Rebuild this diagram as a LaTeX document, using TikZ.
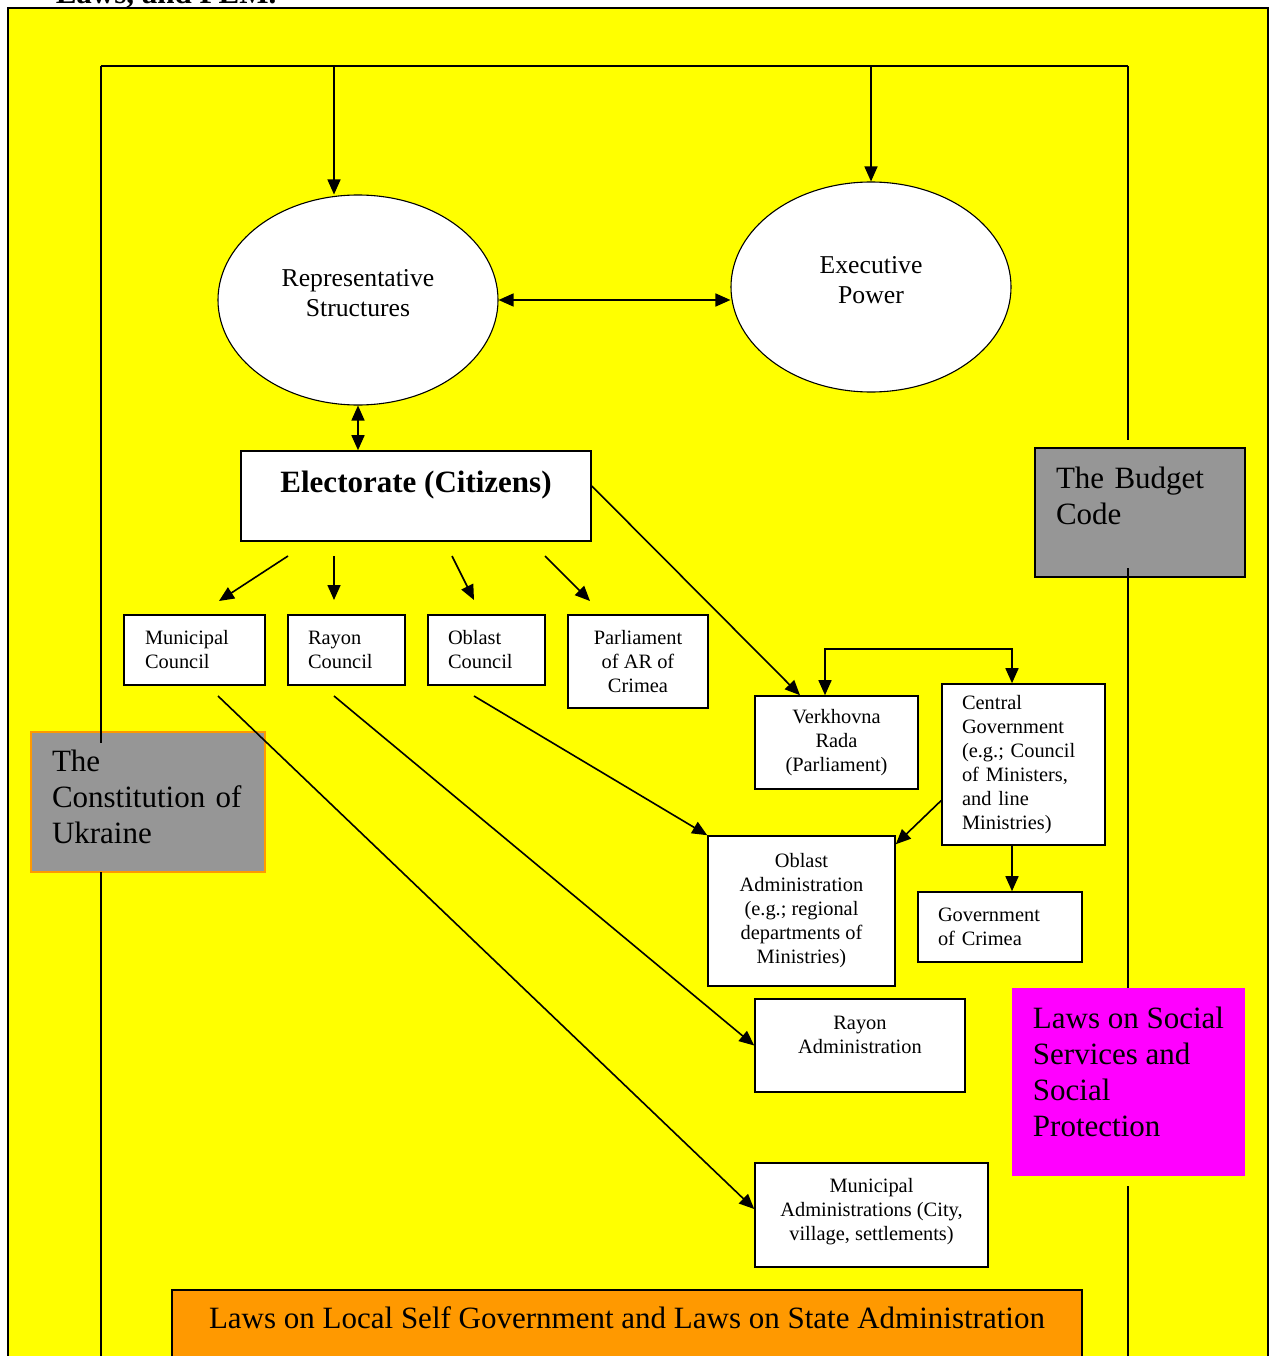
\documentclass[tikz,border=0pt]{standalone}
\usepackage{fontspec}
\setmainfont{Liberation Serif}
\usetikzlibrary{shapes.geometric,arrows.meta}
\definecolor{docyellow}{HTML}{FFFF00}
\definecolor{docgray}{HTML}{969696}
\definecolor{docorange}{HTML}{FF9900}
\definecolor{docmagenta}{HTML}{FF00FF}

\begin{document}
\begin{tikzpicture}[
    x=1pt, y=-1pt,
    line width=1.6pt,
    arr/.style={-{Triangle[length=15pt,width=13pt]}},
    biarr/.style={{Triangle[length=15pt,width=13pt]}-{Triangle[length=15pt,width=13pt]}},
    power/.style={ellipse, draw, line width=1.1pt, fill=white, minimum width=280pt, minimum height=210pt, inner sep=0pt, align=center, font=\fontsize{25.7}{30}\selectfont},
    unit/.style={rectangle, draw, fill=white, inner sep=0pt, font=\fontsize{20.4}{24}\selectfont},
    law/.style={rectangle, inner xsep=21pt, inner ysep=0pt, align=left, font=\fontsize{31}{36}\selectfont}
]
    \useasboundingbox (0,0) rectangle (1271,1356);
    \clip (0,0) rectangle (1271,1356);
    % Page title (cut off at the top)
    \node[anchor=base west, inner sep=0pt, font=\fontsize{31}{36}\selectfont\bfseries] (title) at (55,4) {Laws, and PEM.};
    % Background panel
    \draw[fill=docyellow] (8,8) rectangle (1268,1420);
    % Frame
    \coordinate (tl) at (101,66);
    \coordinate (tr) at (1128,66);
    \coordinate (repin) at (334,66);
    \coordinate (exein) at (871,66);
    \draw (tl) -- (tr);
    % Powers
    \node[power] (rep) at (358,300) {Representative\\Structures\\[-16pt]~};
    \node[power] (exe) at (871,287) {Executive\\Power\\[-16pt]~};
    \node[unit, align=center, minimum width=350pt, minimum height=90pt, font=\fontsize{31}{36}\selectfont\bfseries] (elec) at (416,496) {Electorate (Citizens)\\[-8pt]~};
    % Councils
    \node[unit, align=left, text width=99pt, inner xsep=21pt, minimum height=70pt] (muncl) at (194.5,650) {Municipal\\Council};
    \node[unit, align=left, text width=77pt, inner xsep=20pt, minimum height=70pt] (raycl) at (346.5,650) {Rayon\\Council};
    \node[unit, align=left, text width=77pt, inner xsep=20pt, minimum height=70pt] (oblcl) at (486.5,650) {Oblast\\Council};
    \node[unit, align=center, minimum width=140pt, minimum height=93pt] (parcr) at (638,661.5) {Parliament\\of AR of\\Crimea};
    % Central level
    \node[unit, align=center, minimum width=163pt, minimum height=93pt] (verk) at (836.5,742.5) {Verkhovna\\Rada\\(Parliament)};
    \node[unit, align=left, text width=123pt, inner xsep=20pt, minimum height=161pt] (cgov) at (1023.5,764.5) {Central\\Government\\(e.g.; Council\\of Ministers,\\and line\\Ministries)};
    \node[unit, align=left, text width=124pt, inner xsep=20pt, minimum height=70pt] (govcr) at (1000,927) {Government\\of Crimea};
    % Administrations
    \node[unit, align=center, minimum width=187pt, minimum height=150pt] (obadm) at (801.5,911) {Oblast\\Administration\\(e.g.; regional\\departments of\\Ministries)};
    \node[unit, align=center, minimum width=210pt, minimum height=93pt] (rayadm) at (860,1045.5) {Rayon\\Administration\\[-2pt]~};
    \node[unit, align=center, minimum width=233pt, minimum height=104pt] (munadm) at (871.5,1215) {Municipal\\Administrations (City,\\village, settlements)\\[-12pt]~};
    % Laws
    \node[law, draw, fill=docgray, text width=168pt, minimum height=129pt] (bud) at (1140,512.5) {The Budget\\Code\\[-3pt]~};
    \node[law, draw=docorange, fill=docgray, text width=192pt, minimum height=140pt] (con) at (148,802) {The\\Constitution of\\Ukraine\\[-26pt]~};
    \node[law, fill=docmagenta, inner xsep=0pt, minimum width=233pt, minimum height=188pt] (soc) at (1128.5,1082) {Laws on Social\\Services and\\Social\\Protection\\[-15pt]~};
    \node[draw, fill=docorange, anchor=north, minimum width=910pt, inner sep=0pt, text height=39pt, text depth=80pt, font=\fontsize{31}{36}\selectfont] (lsg) at (627,1289) {Laws on Local Self Government and Laws on State Administration};
    % Frame sides
    \coordinate (l1) at (101,743);
    \coordinate (l2) at (101,872);
    \coordinate (l3) at (101,1420);
    \coordinate (r1) at (1128,440);
    \coordinate (r2) at (1128,568);
    \coordinate (r3) at (1128,988);
    \coordinate (r4) at (1128,1186);
    \coordinate (r5) at (1128,1420);
    \draw (tl) -- (l1);
    \draw (l2) -- (l3);
    \draw (tr) -- (r1);
    \draw (r2) -- (r3);
    \draw (r4) -- (r5);
    % Arrows
    \draw[arr] (repin) -- (repin |- rep.north);
    \draw[arr] (exein) -- (exe.north);
    \draw[biarr] (rep.east) -- (rep.east -| exe.west);
    \draw[biarr] (rep.south) -- (rep.south |- elec.north);
    \coordinate (e1) at (288,556);
    \coordinate (c1) at (219,601);
    \coordinate (e2) at (334,556);
    \coordinate (c2) at (334,600);
    \coordinate (e3) at (452,556);
    \coordinate (c3) at (474,600);
    \coordinate (e4) at (545,556);
    \coordinate (c4) at (590,601);
    \draw[arr] (e1) -- (c1);
    \draw[arr] (e2) -- (c2);
    \draw[arr] (e3) -- (c3);
    \draw[arr] (e4) -- (c4);
    \draw[arr] ([yshift=10pt]elec.east) -- (verk.north -| 800,0);
    \draw[biarr] (verk.north -| 825,0) -- ++(0,-46) -| (cgov.north -| 1012,0);
    \draw[arr] ([yshift=-36pt]cgov.west) -- ([yshift=-9pt]obadm.north east);
    \draw[arr] (cgov.south -| 1012,0) -- (govcr.north -| 1012,0);
    \coordinate (o1) at (474,696);
    \coordinate (y1) at (334,696);
    \coordinate (m1) at (218,696);
    \draw[arr] (o1) -- (obadm.north west);
    \draw[arr] (y1) -- (rayadm.west);
    \draw[arr] (m1) -- ([yshift=6pt]munadm.west);
\end{tikzpicture}
\end{document}
